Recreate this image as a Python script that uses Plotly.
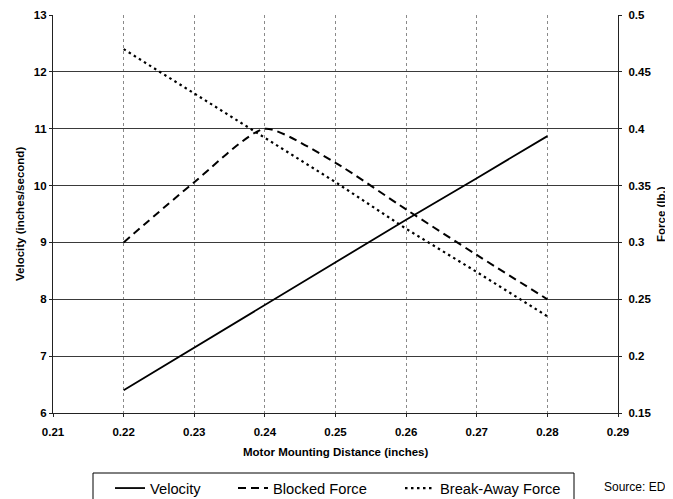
import plotly.graph_objects as go

# ---- data ----
distance = [0.22, 0.23, 0.24, 0.25, 0.26, 0.27, 0.28]
velocity = [6.4, 7.15, 7.9, 8.65, 9.4, 10.13, 10.87]
blocked_force = [0.30, 0.353, 0.40, 0.37, 0.329, 0.289, 0.25]
breakaway_force = [0.47, 0.431, 0.392, 0.353, 0.312, 0.274, 0.235]

x_ticks = [0.21, 0.22, 0.23, 0.24, 0.25, 0.26, 0.27, 0.28, 0.29]
x_tick_labels = ["0.21", "0.22", "0.23", "0.24", "0.25", "0.26", "0.27", "0.28", "0.29"]
vel_ticks = [6, 7, 8, 9, 10, 11, 12, 13]
force_ticks = [0.15, 0.2, 0.25, 0.3, 0.35, 0.4, 0.45, 0.5]
force_tick_labels = ["0.15", "0.2", "0.25", "0.3", "0.35", "0.4", "0.45", "0.5"]

FONT = "Liberation Sans, Arial, sans-serif"

# the page body has an 8px margin: build the figure 8px smaller and shifted
OFF = 8
WIN_W, WIN_H = 673, 499
W, H = WIN_W - OFF, WIN_H - OFF
# plot area in window pixels: x 53..618, y 15..413
L = 53 - OFF
T = 15 - OFF
R = W - (618 - OFF)
B = H - (413 - OFF)
PW, PH = W - L - R, H - T - B


def px_x(px):
    return (px - OFF - L) / PW


def px_y(py):
    return (H - B - (py - OFF)) / PH


fig = go.Figure()
fig.add_trace(go.Scatter(x=distance, y=velocity, name="Velocity", mode="lines",
                         line=dict(color="black", width=1.8), yaxis="y", legend="legend"))
fig.add_trace(go.Scatter(x=distance, y=blocked_force, name="Blocked Force", mode="lines",
                         line=dict(color="black", width=2, dash="8px,5px", shape="spline", smoothing=0.6),
                         yaxis="y2", legend="legend2"))
fig.add_trace(go.Scatter(x=distance, y=breakaway_force, name="Break-Away Force", mode="lines",
                         line=dict(color="black", width=2.2, dash="2.5px,3.5px"), yaxis="y2",
                         legend="legend3"))

tickfont = dict(family=FONT, size=11.5, color="black", weight="bold")
legfont = dict(family=FONT, size=14.7, color="black")


def leg(x_px):
    return dict(orientation="h", x=px_x(x_px), xanchor="left", y=px_y(472), yanchor="top",
                borderwidth=0, bgcolor="rgba(0,0,0,0)", font=legfont)


fig.update_layout(
    width=W, height=H,
    margin=dict(l=L, r=R, t=T, b=B, autoexpand=False),
    paper_bgcolor="white", plot_bgcolor="white",
    font=dict(family=FONT, color="black"),
    xaxis=dict(range=[0.21, 0.29], tickvals=x_ticks, ticktext=x_tick_labels,
               showgrid=True, gridcolor="#8a8a8a", gridwidth=1, griddash="3px,3px",
               showline=True, linecolor="#222", linewidth=1.2,
               ticks="outside", ticklen=3, tickcolor="#222", tickfont=tickfont,
               ticklabelstandoff=5, zeroline=False),
    yaxis=dict(range=[6, 13], tickvals=vel_ticks,
               showgrid=True, gridcolor="#3a3a3a", gridwidth=1,
               showline=True, linecolor="#222", linewidth=1.2,
               ticks="outside", ticklen=3, tickcolor="#222", tickfont=tickfont,
               zeroline=False),
    yaxis2=dict(range=[0.15, 0.5], tickvals=force_ticks, ticktext=force_tick_labels,
                overlaying="y", side="right", showgrid=False,
                showline=True, linecolor="#222", linewidth=1.2,
                ticks="outside", ticklen=3, tickcolor="#222", tickfont=tickfont,
                ticklabelstandoff=4, zeroline=False),
    legend=leg(110),
    legend2=leg(233),
    legend3=leg(400),
    showlegend=True,
    shapes=[
        dict(type="rect", xref="paper", yref="paper",
             x0=px_x(93), x1=px_x(574), y0=px_y(473), y1=px_y(500),
             line=dict(color="black", width=1), fillcolor="rgba(0,0,0,0)", layer="below"),
    ],
    annotations=[
        dict(text="Motor Mounting Distance (inches)", xref="paper", yref="paper",
             x=0.5, y=px_y(452), xanchor="center", yanchor="middle", showarrow=False,
             font=dict(family=FONT, size=11.5, color="black", weight="bold")),
        dict(text="Velocity (inches/second)", xref="paper", yref="paper",
             x=px_x(20), y=0.5, xanchor="center", yanchor="middle", showarrow=False,
             textangle=-90, font=dict(family=FONT, size=11.5, color="black", weight="bold")),
        dict(text="Force (lb.)", xref="paper", yref="paper",
             x=px_x(661), y=0.5, xanchor="center", yanchor="middle", showarrow=False,
             textangle=-90, font=dict(family=FONT, size=11.5, color="black", weight="bold")),
        dict(text="Source: EDO", xref="paper", yref="paper",
             x=px_x(602), y=px_y(487), xanchor="left", yanchor="middle", showarrow=False,
             font=dict(family=FONT, size=12, color="black")),
    ],
)

fig.write_html("out.html")
